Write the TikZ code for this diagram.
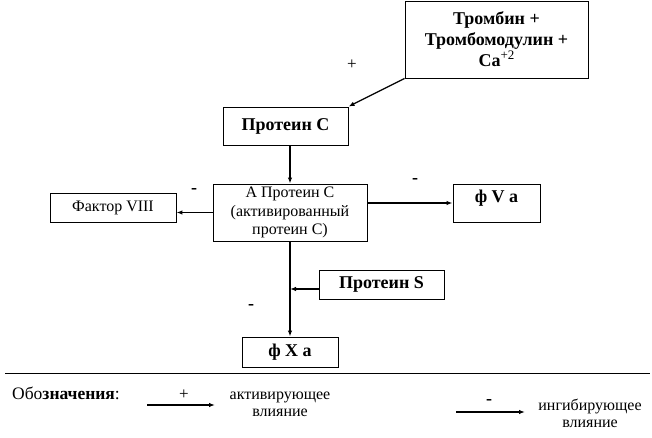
\documentclass[tikz,border=0pt]{standalone}
\usepackage{fontspec}
\setmainfont{Liberation Serif}
\usetikzlibrary{arrows.meta}
\begin{document}
\begin{tikzpicture}[x=1pt,y=-1pt,
  box/.style={draw, line width=0.9pt, inner sep=0pt, align=center, font=\fontsize{16}{18.3}\selectfont},
  bbox/.style={box, font=\fontsize{18}{21}\selectfont\bfseries},
  conn/.style={line width=1.3pt, -{Latex[length=6pt,width=4.5pt]}},
  sign/.style={font=\fontsize{18}{18}\selectfont\bfseries, inner sep=0pt},
  plus/.style={font=\fontsize{17}{18}\selectfont, inner sep=0pt},
  legtext/.style={font=\fontsize{16}{17}\selectfont, align=center, inner sep=0pt}
]
\useasboundingbox (0,0) rectangle (652,438);
% boxes
\node[bbox, minimum width=183, minimum height=77] (tr) at (496.5,39.5) {Тромбин +\\Тромбомодулин +\\Ca\raisebox{7pt}{\fontsize{13}{13}\selectfont\mdseries +2}};
\node[bbox, minimum width=125, minimum height=38] (pc) at (285.5,126) {Протеин С};
\node[box, minimum width=154, minimum height=57] (apc) at (290,212.5) {А Протеин С\\(активированный\\протеин С)};
\node[box, minimum width=126, minimum height=29] (f8) at (113,207.5) {Фактор VIII};
\node[bbox, minimum width=87, minimum height=38, text depth=13pt] (fva) at (496.5,203) {ф V a};
\node[bbox, minimum width=125, minimum height=29] (ps) at (381.5,284.5) {Протеин S};
\node[bbox, minimum width=96, minimum height=30] (fxa) at (290,352) {ф X a};
% connectors
\coordinate (j) at (290,289);
\draw[conn] (tr.south west) -- (pc.north east);
\draw[conn] (apc.north |- pc.south) -- (apc.north);
\draw[conn] (apc.west) -- (apc.west -| f8.east);
\draw[conn] (apc.east |- fva.west) -- (fva.west);
\draw[conn] (apc.south) -- (fxa.north);
\draw[conn] (ps.west |- j) -- (j);
% signs
\node[plus] (s1) at (352,65) {+};
\node[sign] (s2) at (194,191) {-};
\node[sign] (s3) at (415,181) {-};
\node[sign] (s4) at (251,307) {-};
% separator
\coordinate (l1) at (5,373);
\coordinate (l2) at (650,373);
\draw[line width=0.9pt] (l1) -- (l2);
% legend
\node[legtext, anchor=west, font=\fontsize{17.5}{18}\selectfont] (leg) at (12,393) {Обо\textbf{значения}:};
\coordinate (a1) at (147,405);
\coordinate (a2) at (215,405);
\draw[conn] (a1) -- (a2);
\node[plus] (lp) at (184,395) {+};
\node[legtext] (lt1) at (280,404.5) {активирующее\\влияние};
\coordinate (b1) at (456,412);
\coordinate (b2) at (525,412);
\draw[conn] (b1) -- (b2);
\node[sign] (lm) at (489,402) {-};
\node[legtext] (lt2) at (590,413) {ингибирующее\\влияние};
\end{tikzpicture}
\end{document}
